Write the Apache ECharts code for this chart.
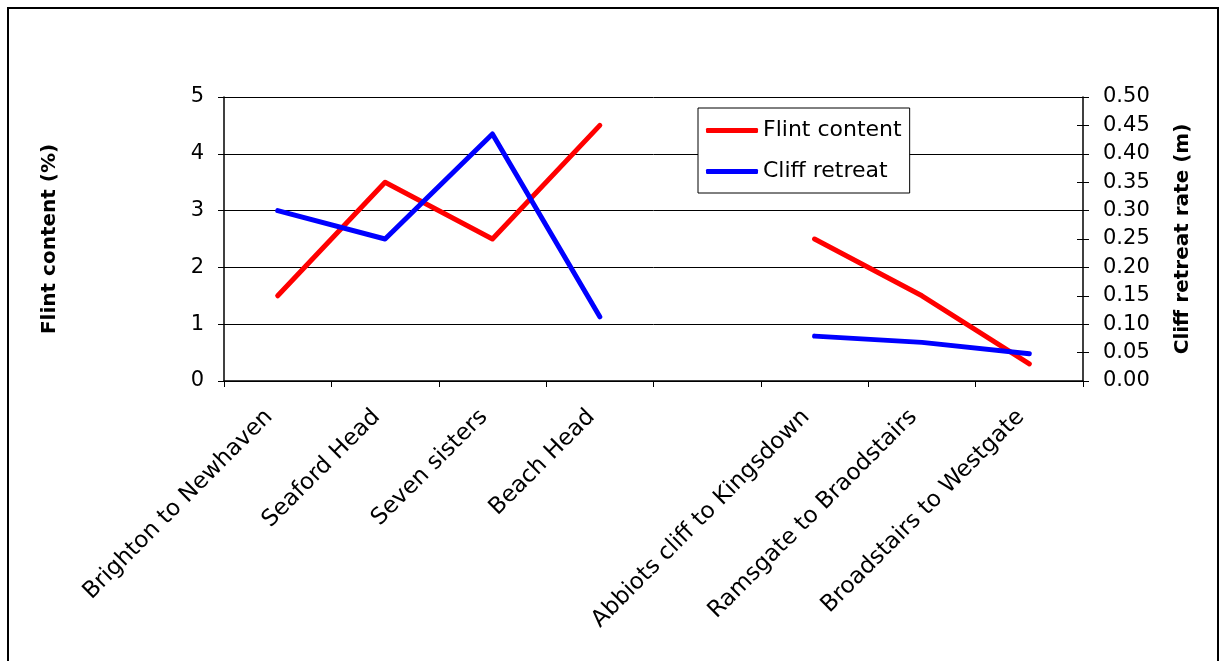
<!DOCTYPE html>
<html>
<head>
<meta charset="utf-8">
<script src="https://cdn.jsdelivr.net/npm/echarts@6/dist/echarts.min.js"></script>
<style>
  html, body { margin: 0; padding: 0; background: #fff; }
  #chart { width: 1220px; height: 661px; }
</style>
</head>
<body>
<div id="chart"></div>
<script>
// Coastal sections (an empty slot separates the Sussex and Kent groups)
const sections = [
  'Brighton to Newhaven', 'Seaford Head', 'Seven sisters', 'Beach Head', '',
  'Abbiots cliff to Kingsdown', 'Ramsgate to Braodstairs', 'Broadstairs to Westgate'
];
// Flint content (%)
const flintContent = [1.5, 3.5, 2.5, 4.5, null, 2.5, 1.5, 0.3];
// Cliff retreat rate (m)
const cliffRetreat = [0.30, 0.25, 0.435, 0.113, null, 0.079, 0.068, 0.048];

const FONT = 'DejaVu Sans';
const chart = echarts.init(document.getElementById('chart'));

chart.setOption({
  animation: false,
  backgroundColor: '#fff',
  textStyle: { fontFamily: FONT, color: '#000' },
  graphic: [{
    type: 'rect',
    shape: { x: 8, y: 8, width: 1210, height: 700 },
    style: { fill: 'none', stroke: '#000', lineWidth: 2 },
    silent: true
  }],
  grid: { left: 224, right: 137, top: 97, bottom: 280 },
  legend: {
    orient: 'vertical',
    left: 698,
    top: 108,
    padding: [10, 8, 9, 8],
    itemGap: 16,
    itemWidth: 52,
    itemHeight: 5,
    itemTextGap: 4,
    icon: 'roundRect',
    borderColor: '#000',
    borderWidth: 1,
    backgroundColor: '#fff',
    textStyle: { fontFamily: FONT, fontSize: 22, color: '#000', lineHeight: 25 },
    data: ['Flint content', 'Cliff retreat']
  },
  xAxis: {
    type: 'category',
    data: sections,
    boundaryGap: true,
    axisLine: { lineStyle: { color: '#000', width: 1.5 } },
    axisTick: { show: true, length: 6, lineStyle: { color: '#000' } },
    axisLabel: {
      rotate: 45, margin: 24, interval: 0, padding: [0, 12, 0, 0],
      fontFamily: FONT, fontSize: 23, color: '#000'
    },
    splitLine: { show: false }
  },
  yAxis: [
    {
      type: 'value', min: 0, max: 5, interval: 1, position: 'left',
      name: 'Flint content (%)', nameLocation: 'middle', nameGap: 164,
      nameTextStyle: { fontFamily: FONT, fontSize: 20, fontWeight: 'bold', color: '#000' },
      axisLine: { show: true, lineStyle: { color: '#000', width: 1.5 } },
      axisTick: { show: true, length: 6, lineStyle: { color: '#000' } },
      axisLabel: { margin: 20, fontFamily: FONT, fontSize: 21, color: '#000' },
      splitLine: { show: true, lineStyle: { color: '#000', width: 1 } }
    },
    {
      type: 'value', min: 0, max: 0.5, interval: 0.05, position: 'right',
      name: 'Cliff retreat rate (m)', nameLocation: 'middle', nameGap: 90,
      nameTextStyle: { fontFamily: FONT, fontSize: 20, fontWeight: 'bold', color: '#000' },
      axisLine: { show: true, lineStyle: { color: '#000', width: 1.5 } },
      axisTick: { show: true, length: 6, lineStyle: { color: '#000' } },
      axisLabel: {
        margin: 20, fontFamily: FONT, fontSize: 21, color: '#000',
        formatter: v => v.toFixed(2)
      },
      splitLine: { show: false }
    },
    {
      // inner half of the crossing ticks on the right axis
      type: 'value', min: 0, max: 0.5, interval: 0.05, position: 'right',
      axisLine: { show: false },
      axisTick: { show: true, inside: true, length: 6, lineStyle: { color: '#000' } },
      axisLabel: { show: false },
      splitLine: { show: false }
    }
  ],
  series: [
    {
      name: 'Flint content', type: 'line', yAxisIndex: 0,
      data: flintContent, connectNulls: false,
      symbol: 'none', color: '#ff0000',
      lineStyle: { color: '#ff0000', width: 5, cap: 'round', join: 'round' }
    },
    {
      name: 'Cliff retreat', type: 'line', yAxisIndex: 1,
      data: cliffRetreat, connectNulls: false,
      symbol: 'none', color: '#0000ff',
      lineStyle: { color: '#0000ff', width: 5, cap: 'round', join: 'round' }
    }
  ]
});
</script>
</body>
</html>
